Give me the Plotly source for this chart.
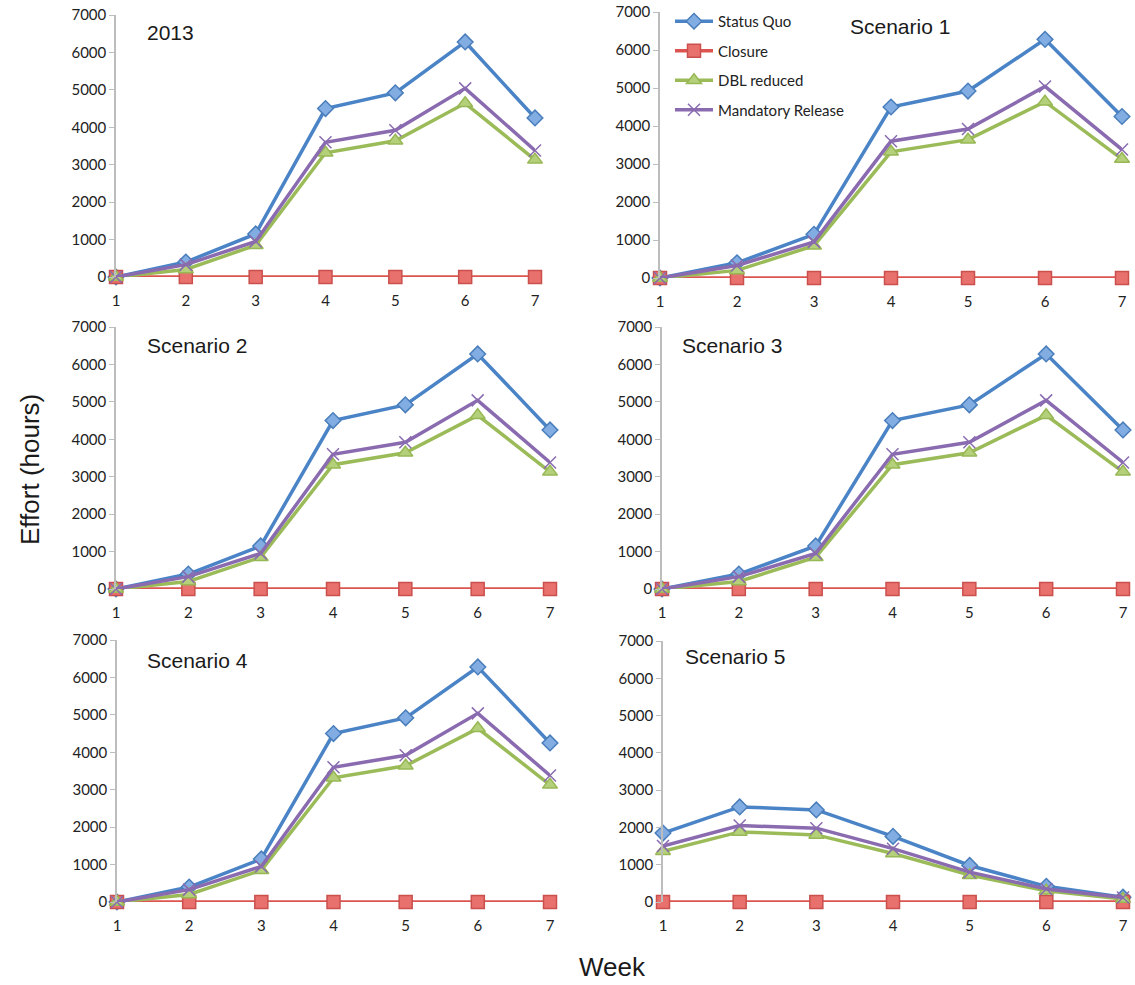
import plotly.graph_objects as go

# Weekly effort (hours) under each management option
weeks = [1, 2, 3, 4, 5, 6, 7]
panel_titles = ["2013", "Scenario 1", "Scenario 2", "Scenario 3", "Scenario 4", "Scenario 5"]
series_names = ["Status Quo", "Closure", "DBL reduced", "Mandatory Release"]

base_status_quo = [0, 400, 1150, 4500, 4920, 6280, 4250]
base_closure = [0, 0, 0, 0, 0, 0, 0]
base_dbl_reduced = [0, 200, 850, 3320, 3640, 4640, 3130]
base_mandatory_release = [0, 330, 950, 3600, 3920, 5040, 3380]

s5_status_quo = [1850, 2550, 2470, 1760, 980, 420, 130]
s5_closure = [0, 0, 0, 0, 0, 0, 0]
s5_dbl_reduced = [1360, 1880, 1800, 1300, 720, 300, 80]
s5_mandatory_release = [1500, 2050, 1980, 1430, 800, 350, 120]

panel_data = [
    [base_status_quo, base_closure, base_dbl_reduced, base_mandatory_release],
    [base_status_quo, base_closure, base_dbl_reduced, base_mandatory_release],
    [base_status_quo, base_closure, base_dbl_reduced, base_mandatory_release],
    [base_status_quo, base_closure, base_dbl_reduced, base_mandatory_release],
    [base_status_quo, base_closure, base_dbl_reduced, base_mandatory_release],
    [s5_status_quo, s5_closure, s5_dbl_reduced, s5_mandatory_release],
]

styles = [
    dict(line="#4A84C6", fill="#82ADE3", edge="#4A7EBB", symbol="diamond", size=12),
    dict(line="#DC5450", fill="#E8716E", edge="#C9504D", symbol="square", size=13),
    dict(line="#9BBB59", fill="#B5D07A", edge="#98B855", symbol="triangle-up", size=13),
    dict(line="#8A6BB0", fill="#8A6BB0", edge="#8A6BB0", symbol="x-thin", size=12),
]

W, H = 1135, 985
# plot areas in pixels: (left, right, top, bottom)
boxes = [
    (116, 535, 15, 277),
    (660, 1122, 12, 278),
    (116, 550, 327, 589),
    (662, 1123, 327, 589),
    (117, 550, 640, 902),
    (663, 1123, 641, 902),
]
title_pos = [(145, 32), (848, 27), (145, 345), (680, 345), (145, 660), (683, 656)]

fig = go.Figure()
layout = dict(
    width=W, height=H,
    margin=dict(l=0, r=0, t=0, b=0, autoexpand=False),
    paper_bgcolor="white", plot_bgcolor="white",
    showlegend=True,
    font=dict(family="Lato, Open Sans, sans-serif", size=15, color="#222222"),
    legend=dict(
        x=670 / W, y=1 - 5 / H, xanchor="left", yanchor="top",
        bgcolor="rgba(255,255,255,0)", font=dict(size=15, color="#222222"),
        tracegroupgap=7, itemwidth=38,
    ),
    annotations=[],
)

for i, (box, data) in enumerate(zip(boxes, panel_data)):
    l, r, t, b = box
    n = i + 1
    sfx = "" if n == 1 else str(n)
    layout[f"xaxis{sfx}"] = dict(
        domain=[l / W, r / W], range=[1, 7], anchor=f"y{sfx}",
        tickvals=weeks, ticktext=[str(w) for w in weeks],
        showgrid=False, zeroline=False, showline=False,
        ticks="outside", ticklen=10, tickcolor="rgba(0,0,0,0)",
        automargin=False,
        tickfont=dict(size=15, color="#222222"),
    )
    layout[f"yaxis{sfx}"] = dict(
        domain=[1 - b / H, 1 - t / H], range=[0, 7000], anchor=f"x{sfx}",
        tickvals=list(range(0, 7001, 1000)),
        showgrid=False, zeroline=False, showline=True, linecolor="#BDBDBD", linewidth=1.5,
        ticks="outside", ticklen=5, tickcolor="#BDBDBD",
        automargin=False,
        tickfont=dict(size=15, color="#222222"),
    )
    for name, vals, st in zip(series_names, data, styles):
        fig.add_trace(go.Scatter(
            x=weeks, y=vals, name=name, mode="lines+markers",
            xaxis=f"x{sfx}", yaxis=f"y{sfx}",
            line=dict(color=st["line"], width=3.5),
            marker=dict(symbol=st["symbol"], size=st["size"], color=st["fill"],
                        line=dict(color=st["edge"], width=1.5)),
            cliponaxis=False,
            legendgroup=name, showlegend=(n == 2),
        ))
    tx, ty = title_pos[i]
    layout["annotations"].append(dict(
        text=panel_titles[i], x=tx / W, y=1 - ty / H, xref="paper", yref="paper",
        xanchor="left", yanchor="middle", showarrow=False,
        font=dict(family="Liberation Sans, Arial, sans-serif", size=21, color="#1a1a1a"),
    ))

layout["annotations"].append(dict(
    text="Effort (hours)", x=30 / W, y=1 - 470 / H, xref="paper", yref="paper",
    textangle=-90, showarrow=False, xanchor="center", yanchor="middle",
    font=dict(family="Liberation Sans, Arial, sans-serif", size=26, color="#1a1a1a"),
))
layout["annotations"].append(dict(
    text="Week", x=612 / W, y=1 - 967 / H, xref="paper", yref="paper",
    showarrow=False, xanchor="center", yanchor="middle",
    font=dict(family="Liberation Sans, Arial, sans-serif", size=26, color="#1a1a1a"),
))

fig.update_layout(**layout)
fig.write_html("out.html")
